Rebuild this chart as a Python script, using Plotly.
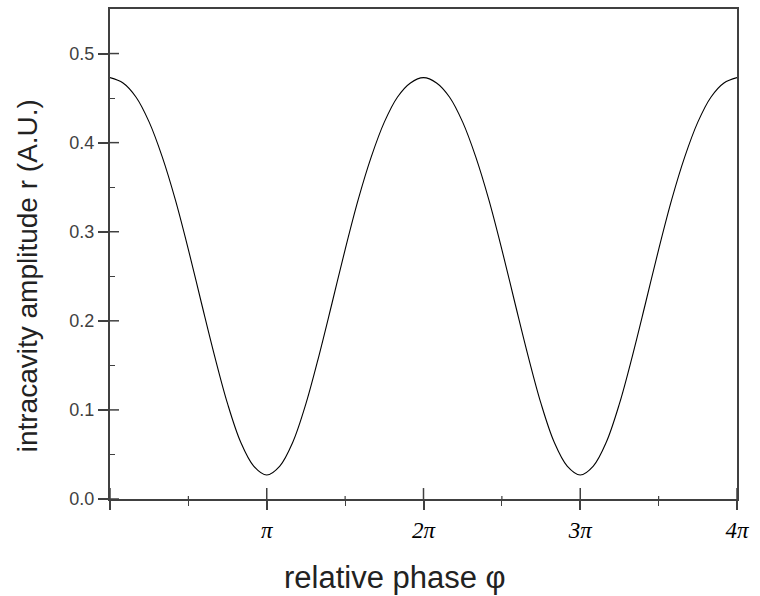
import numpy as np
import plotly.graph_objects as go

PI = np.pi
# phase samples in units of pi (step pi/12), 0 .. 4 pi
phase_over_pi = [i / 12 for i in range(49)]
# amplitude
amplitude = [
    0.473, 0.467, 0.451, 0.423, 0.384, 0.336, 0.280, 0.220, 0.161, 0.107, 0.064, 0.037,
    0.027,
    0.037, 0.064, 0.107, 0.161, 0.220, 0.280, 0.336, 0.384, 0.423, 0.451, 0.467,
    0.473,
    0.467, 0.451, 0.423, 0.384, 0.336, 0.280, 0.220, 0.161, 0.107, 0.064, 0.037,
    0.027,
    0.037, 0.064, 0.107, 0.161, 0.220, 0.280, 0.336, 0.384, 0.423, 0.451, 0.467,
    0.473,
]
x_tick_vals = [0, PI, 2 * PI, 3 * PI, 4 * PI]
x_tick_text = ["", "π", "2π", "3π", "4π"]
x_minor_vals = [0.5 * PI, 1.5 * PI, 2.5 * PI, 3.5 * PI]
y_tick_vals = [0.0, 0.1, 0.2, 0.3, 0.4, 0.5]
y_tick_text = ["0.0", "0.1", "0.2", "0.3", "0.4", "0.5"]
y_minor_vals = [0.05, 0.15, 0.25, 0.35, 0.45]

x_title = "relative phase φ"
y_title = "intracavity amplitude r (A.U.)"

xs = [p * PI for p in phase_over_pi]

W, H = 760, 596
ML, MR, MT, MB = 110, 23, 7, 97
PW, PH = W - ML - MR, H - MT - MB

AX = "#404040"
XR = [0, 4 * PI]
YR = [0, 0.55]

fig = go.Figure()
fig.add_trace(go.Scatter(x=xs, y=amplitude, mode="lines",
                         line=dict(color="black", width=1.1, shape="spline"),
                         hoverinfo="skip", showlegend=False))

# inner halves of the crossing tick marks (positions taken from the tick arrays)
for v in x_tick_vals:
    fig.add_shape(type="line", xref="x", yref="y domain", x0=v, x1=v,
                  y0=0, y1=11 / PH, line=dict(color=AX, width=1.5))
for v in x_minor_vals:
    fig.add_shape(type="line", xref="x", yref="y domain", x0=v, x1=v,
                  y0=0, y1=3 / PH, line=dict(color=AX, width=1.2))
for v in y_tick_vals:
    fig.add_shape(type="line", xref="x domain", yref="y", y0=v, y1=v,
                  x0=0, x1=9 / PW, line=dict(color=AX, width=1.5))

fig.update_layout(
    width=W, height=H,
    margin=dict(l=ML, r=MR, t=MT, b=MB),
    paper_bgcolor="white", plot_bgcolor="white",
    xaxis=dict(range=XR, tickmode="array", tickvals=x_tick_vals, ticktext=x_tick_text,
               ticks="outside", ticklen=9, tickwidth=1.5, tickcolor=AX,
               showline=True, linecolor=AX, linewidth=2, mirror=True,
               showgrid=False, zeroline=False,
               tickfont=dict(family="Liberation Serif", size=23, color="black",
                             style="italic"),
               minor=dict(tickvals=x_minor_vals, ticks="outside", ticklen=5,
                          tickwidth=1.2, tickcolor=AX, showgrid=False)),
    yaxis=dict(range=YR, tickmode="array", tickvals=y_tick_vals, ticktext=y_tick_text,
               ticks="outside", ticklen=10, tickwidth=1.5, tickcolor=AX,
               showline=True, linecolor=AX, linewidth=2, mirror=True,
               showgrid=False, zeroline=False,
               tickfont=dict(family="Liberation Sans", size=18, color="#404040"),
               minor=dict(tickvals=y_minor_vals, ticks="inside", ticklen=5,
                          tickwidth=1.2, tickcolor=AX, showgrid=False)),
    annotations=[
        dict(text=x_title, xref="paper", yref="paper", x=0.455, y=-0.16,
             xanchor="center", yanchor="middle", showarrow=False,
             font=dict(family="Liberation Sans", size=31, color="#222")),
        dict(text=y_title, xref="paper", yref="paper", x=-0.132, y=0.455,
             xanchor="center", yanchor="middle", showarrow=False, textangle=-90,
             font=dict(family="Liberation Sans", size=28, color="#222")),
    ],
)

fig.write_html("out.html")
